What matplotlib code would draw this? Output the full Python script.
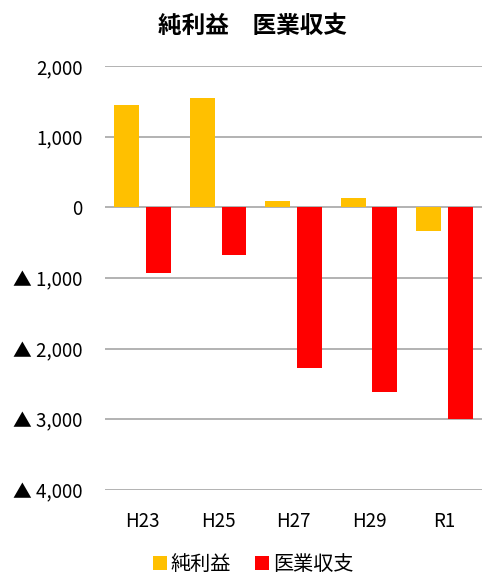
import numpy as np
import matplotlib
matplotlib.use("Agg")
import matplotlib.pyplot as plt

plt.rcParams['font.family'] = ['Noto Sans CJK JP', 'DejaVu Sans']

# data
years = ['H23', 'H25', 'H27', 'H29', 'R1']
net_profit = [1450, 1545, 85, 130, -330]
medical_balance = [-930, -675, -2270, -2615, -2990]

yticks = [2000, 1000, 0, -1000, -2000, -3000, -4000]
ytick_labels = ['2,000', '1,000', '0', '▲ 1,000', '▲ 2,000', '▲ 3,000', '▲ 4,000']

fig = plt.figure(figsize=(4.85, 5.74), dpi=100)
ax = fig.add_axes([0.2165, 0.146, 0.7775, 0.739])

x = np.arange(len(years))
w = 0.33
off = 0.21
ax.bar(x - off, net_profit, width=w, color='#FFC000', label='純利益', zorder=3)
ax.bar(x + off, medical_balance, width=w, color='#FF0000', label='医業収支', zorder=3)

ax.set_xlim(-0.5, len(years) - 0.5)
ax.set_ylim(-4000, 2000)
ax.set_yticks(yticks)
ax.set_yticklabels(ytick_labels)
ax.set_xticks(x)
ax.set_xticklabels(years)
ax.tick_params(axis='both', length=0, labelsize=13.5)
ax.tick_params(axis='y', pad=16)
ax.tick_params(axis='x', pad=15)
ax.grid(axis='y', color='#a6a6a6', linewidth=1.2, zorder=0)
for s in ax.spines.values():
    s.set_visible(False)

fig.text(0.52, 0.955, '純利益　医業収支', ha='center', va='center',
         fontsize=17, fontweight='bold')

fig.legend(loc='center', bbox_to_anchor=(0.522, 0.017), ncol=2, frameon=False,
           fontsize=14.5, handlelength=0.7, handleheight=0.7, handletextpad=0.2,
           columnspacing=1.2)

fig.savefig('out.png', dpi=100)
